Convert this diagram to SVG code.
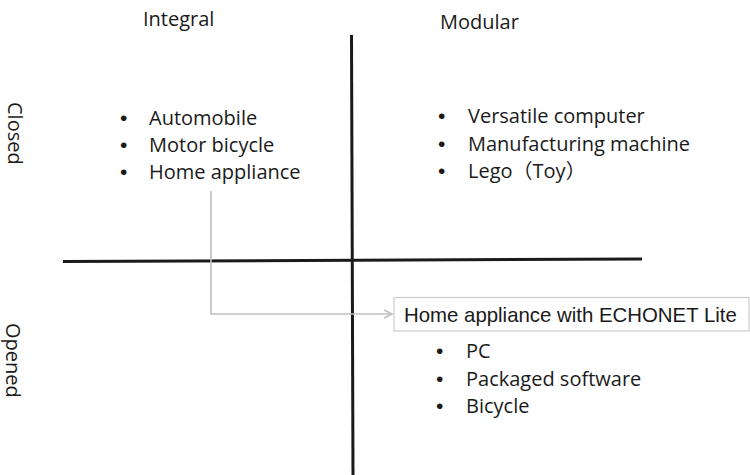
<svg xmlns="http://www.w3.org/2000/svg" width="750" height="475" viewBox="0 0 750 475">
  <style>
    .lbl { font-family: "Open Sans", "Noto Sans", "Noto Sans CJK JP", sans-serif; font-size: 20px; fill: #1a1a1a; }
    .dot { font-family: "Liberation Sans", Arial, sans-serif; font-size: 21px; fill: #1a1a1a; }
    .box-text { font-family: "Liberation Sans", Arial, sans-serif; font-size: 20.4px; fill: #1a1a1a; }
    .axis { stroke: #1a1a1a; stroke-width: 3; fill: none; }
    .link { stroke: #c0c0c0; stroke-width: 1.6; fill: none; }
  </style>
  <defs>
    <marker id="open-arrow" viewBox="0 0 10 10" refX="9" refY="5" markerWidth="10" markerHeight="10" markerUnits="userSpaceOnUse" orient="auto">
      <path d="M1,1 L9,5 L1,9" fill="none" stroke="#c0c0c0" stroke-width="1.6"/>
    </marker>
  </defs>
  <rect width="750" height="475" fill="#ffffff"/>

  <!-- quadrant axes -->
  <g id="axes">
    <line class="axis" x1="351.5" y1="35" x2="353" y2="475"/>
    <line class="axis" x1="63" y1="261.5" x2="642" y2="259"/>
  </g>

  <!-- axis titles -->
  <g id="title-integral"><text class="lbl" x="143" y="26">Integral</text></g>
  <g id="title-modular"><text class="lbl" x="440" y="29">Modular</text></g>
  <g id="title-closed"><text class="lbl" transform="translate(8,102) rotate(90)">Closed</text></g>
  <g id="title-opened"><text class="lbl" transform="translate(6,323) rotate(90)">Opened</text></g>

  <!-- integral / closed -->
  <g id="integral-closed">
    <text class="dot" x="120" y="125">•</text><text class="lbl" x="149" y="125">Automobile</text>
    <text class="dot" x="120" y="152">•</text><text class="lbl" x="149" y="152">Motor bicycle</text>
    <text class="dot" x="120" y="179">•</text><text class="lbl" x="149" y="179">Home appliance</text>
  </g>

  <!-- modular / closed -->
  <g id="modular-closed">
    <text class="dot" x="438" y="123">•</text><text class="lbl" x="468" y="123">Versatile computer</text>
    <text class="dot" x="438" y="151">•</text><text class="lbl" x="468" y="151">Manufacturing machine</text>
    <text class="dot" x="438" y="178">•</text><text class="lbl" x="468" y="178">Lego（Toy）</text>
  </g>

  <!-- modular / opened -->
  <g id="modular-opened">
    <text class="dot" x="436" y="358">•</text><text class="lbl" x="466" y="358">PC</text>
    <text class="dot" x="436" y="386">•</text><text class="lbl" x="466" y="386">Packaged software</text>
    <text class="dot" x="436" y="413">•</text><text class="lbl" x="466" y="413">Bicycle</text>
  </g>

  <!-- highlighted item -->
  <g id="echonet-box">
    <rect x="394" y="297.5" width="355" height="33.5" fill="#ffffff" stroke="#cccccc" stroke-width="1.2"/>
    <text class="box-text" x="404" y="322">Home appliance with ECHONET Lite</text>
  </g>

  <!-- connector -->
  <g id="connectors">
    <path class="link" d="M211,191 V314 H392" marker-end="url(#open-arrow)"/>
  </g>
</svg>
